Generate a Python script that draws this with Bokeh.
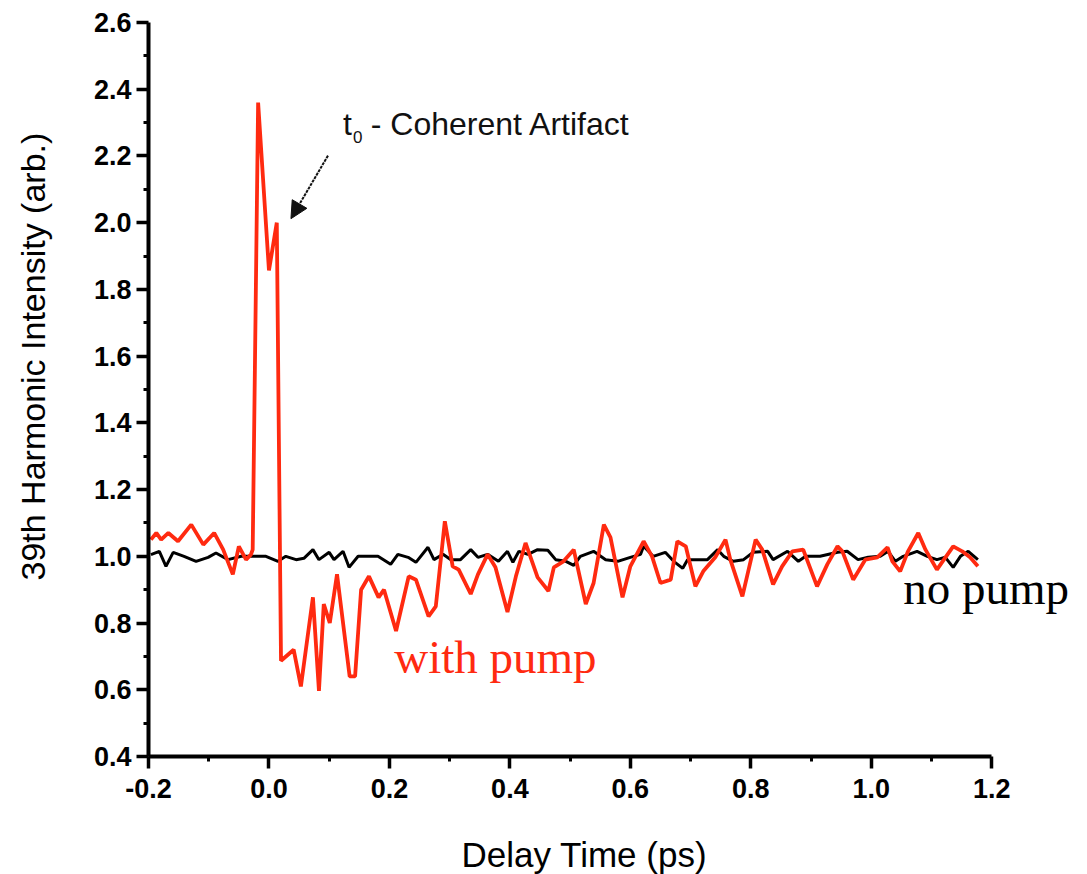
from bokeh.plotting import figure
from bokeh.models import (Range1d, FixedTicker, PrintfTickFormatter, Label,
                          Arrow, NormalHead, Title)
from bokeh.embed import file_html
from bokeh.resources import INLINE

# ---- data ----
with_pump_t = [-0.196, -0.187, -0.179, -0.167, -0.151, -0.129, -0.109, -0.091, -0.076,
               -0.060, -0.050, -0.038, -0.030, -0.027, -0.018, 0.000, 0.013, 0.020,
               0.041, 0.053, 0.073, 0.083, 0.091, 0.101, 0.113, 0.134, 0.143, 0.153,
               0.166, 0.182, 0.191, 0.211, 0.232, 0.244, 0.265, 0.277, 0.292, 0.305,
               0.315, 0.335, 0.347, 0.363, 0.376, 0.396, 0.410, 0.426, 0.446, 0.464,
               0.473, 0.489, 0.506, 0.526, 0.539, 0.556, 0.567, 0.587, 0.600, 0.622,
               0.636, 0.650, 0.667, 0.678, 0.692, 0.708, 0.721, 0.741, 0.758, 0.766,
               0.786, 0.808, 0.819, 0.837, 0.852, 0.869, 0.887, 0.910, 0.927, 0.944,
               0.952, 0.970, 0.990, 1.010, 1.027, 1.035, 1.048, 1.061, 1.078, 1.090,
               1.109, 1.136, 1.151, 1.164, 1.177]
with_pump_i = [1.05, 1.07, 1.05, 1.07, 1.045, 1.095, 1.035, 1.07, 1.02,
               0.946, 1.03, 0.99, 1.005, 1.02, 2.36, 1.857, 2.00, 0.687,
               0.72, 0.61, 0.877, 0.597, 0.857, 0.80, 0.946, 0.64, 0.64, 0.90,
               0.94, 0.877, 0.90, 0.776, 0.94, 0.93, 0.82, 0.85, 1.105, 0.97,
               0.96, 0.887, 0.946, 1.006, 0.967, 0.833, 0.94, 1.04, 0.937, 0.896,
               0.967, 0.985, 1.02, 0.857, 0.92, 1.095, 1.057, 0.877, 0.97, 1.045,
               1.0, 0.92, 0.93, 1.045, 1.03, 0.91, 0.955, 0.997, 1.05, 0.99,
               0.88, 1.05, 1.02, 0.916, 0.97, 1.015, 1.02, 0.91, 0.976, 1.03,
               1.015, 0.93, 0.99, 0.997, 1.027, 0.985, 0.955, 1.015, 1.07, 1.02,
               0.96, 1.03, 1.015, 0.997, 0.97]

no_pump_t = [-0.196, -0.182, -0.171, -0.159, -0.141, -0.121, -0.101, -0.088, -0.068,
             -0.046, -0.025, -0.005, 0.015, 0.028, 0.045, 0.058, 0.073, 0.083, 0.100,
             0.108, 0.123, 0.133, 0.148, 0.181, 0.202, 0.214, 0.231, 0.244, 0.264,
             0.274, 0.289, 0.302, 0.318, 0.335, 0.347, 0.363, 0.381, 0.396, 0.405,
             0.415, 0.430, 0.446, 0.463, 0.476, 0.493, 0.506, 0.517, 0.539, 0.559,
             0.579, 0.600, 0.617, 0.622, 0.638, 0.658, 0.672, 0.687, 0.695, 0.713,
             0.728, 0.745, 0.755, 0.771, 0.788, 0.804, 0.828, 0.837, 0.861, 0.879,
             0.891, 0.915, 0.944, 0.960, 0.978, 0.995, 1.015, 1.028, 1.040, 1.053,
             1.076, 1.093, 1.109, 1.123, 1.136, 1.148, 1.161, 1.177]
no_pump_i = [1.005, 1.015, 0.97, 1.012, 1.0, 0.985, 0.997, 1.01, 0.99,
             1.0, 1.0, 1.0, 0.985, 1.0, 0.99, 0.994, 1.02, 0.99, 1.012,
             0.99, 1.015, 0.967, 1.0, 1.0, 0.976, 1.006, 0.997, 0.982, 1.027,
             0.99, 1.006, 0.99, 0.99, 1.02, 0.997, 1.006, 0.985, 1.015, 0.982,
             1.015, 1.006, 1.02, 1.018, 0.99, 0.985, 0.973, 1.0, 1.015, 0.99,
             0.985, 0.997, 1.006, 1.03, 1.0, 1.012, 0.985, 0.964, 0.99, 0.99,
             0.99, 1.02, 1.0, 0.985, 0.99, 1.012, 1.015, 0.99, 1.015, 0.985,
             1.0, 1.0, 1.012, 1.015, 0.99, 0.997, 1.0, 1.015, 0.985, 1.0,
             1.015, 1.0, 0.99, 0.997, 0.967, 1.0, 1.015, 0.99]

x_major_ticks = [-0.2, 0.0, 0.2, 0.4, 0.6, 0.8, 1.0, 1.2]
x_minor_ticks = [-0.1, 0.1, 0.3, 0.5, 0.7, 0.9, 1.1]
y_major_ticks = [0.4, 0.6, 0.8, 1.0, 1.2, 1.4, 1.6, 1.8, 2.0, 2.2, 2.4, 2.6]
y_minor_ticks = [0.5, 0.7, 0.9, 1.1, 1.3, 1.5, 1.7, 1.9, 2.1, 2.3, 2.5]
x_label = "Delay Time (ps)"
y_label = "39th Harmonic Intensity (arb.)"
annotation_main = "- Coherent Artifact"
series_labels = ["with pump", "no pump"]

RED = "#ff2a10"
SANS = "Liberation Sans"

p = figure(width=1087, height=874, output_backend="svg", toolbar_location=None,
           x_range=Range1d(-0.2, 1.359), y_range=Range1d(0.4, 2.6),
           min_border_left=148, min_border_right=0, min_border_top=22,
           min_border_bottom=118)
p.outline_line_color = None
p.xgrid.visible = False
p.ygrid.visible = False
p.background_fill_color = "white"
p.border_fill_color = "white"

p.line(no_pump_t, no_pump_i, line_color="black", line_width=3)
p.line(with_pump_t, with_pump_i, line_color=RED, line_width=3.8)

p.xaxis.ticker = FixedTicker(ticks=x_major_ticks, minor_ticks=x_minor_ticks)
p.yaxis.ticker = FixedTicker(ticks=y_major_ticks, minor_ticks=y_minor_ticks)
for ax in (p.xaxis[0], p.yaxis[0]):
    ax.formatter = PrintfTickFormatter(format="%.1f")
    ax.axis_line_width = 4
    ax.major_tick_line_width = 3.5
    ax.minor_tick_line_width = 3
    ax.major_tick_in = 0
    ax.minor_tick_in = 0
    ax.major_tick_out = 12
    ax.minor_tick_out = 5
    ax.major_label_text_font = SANS
    ax.major_label_text_font_style = "bold"
    ax.major_label_text_color = "black"

p.xaxis.bounds = (-0.2, 1.2)
p.yaxis.bounds = (0.4, 2.6)
p.xaxis.major_label_text_font_size = "27px"
p.yaxis.major_label_text_font_size = "27px"
p.xaxis.major_label_standoff = 10
p.yaxis.major_label_standoff = 5

# spacer titles (blank) then the axis titles, placed off-centre like the original
p.add_layout(Title(text=" ", text_font_size="33px", standoff=0), "left")
p.add_layout(Title(text=y_label, align="left", offset=176, text_font=SANS,
                   text_font_size="34px", text_font_style="normal",
                   text_color="black", standoff=0), "left")
p.add_layout(Title(text=" ", text_font_size="27px", standoff=0), "below")
p.add_layout(Title(text=x_label, align="left", offset=313, text_font=SANS,
                   text_font_size="35px", text_font_style="normal",
                   text_color="black", standoff=0), "below")

# annotation: t0 - Coherent Artifact
p.add_layout(Label(x=0.123, y=2.297, text="t", text_font=SANS, text_font_size="32px",
                   text_color="#111111", text_baseline="alphabetic"))
p.add_layout(Label(x=0.1395, y=2.258, text="0", text_font=SANS, text_font_size="17px",
                   text_color="#111111", text_baseline="alphabetic"))
p.add_layout(Label(x=0.169, y=2.297, text=annotation_main, text_font=SANS,
                   text_font_size="32px", text_color="#111111",
                   text_baseline="alphabetic"))
p.add_layout(Arrow(x_start=0.098, y_start=2.201, x_end=0.0365, y_end=2.012,
                   line_color="#111111", line_width=2, line_dash="3 1",
                   end=NormalHead(size=17, fill_color="#111111", line_color="#111111")))

p.add_layout(Label(x=0.208, y=0.697, text=series_labels[0], text_font="Liberation Serif",
                   text_font_size="47px", text_color=RED, text_baseline="alphabetic"))
p.add_layout(Label(x=1.053, y=0.905, text=series_labels[1], text_font="Liberation Serif",
                   text_font_size="47px", text_color="black", text_baseline="alphabetic"))

open("out.html", "w").write(file_html(p, INLINE))
